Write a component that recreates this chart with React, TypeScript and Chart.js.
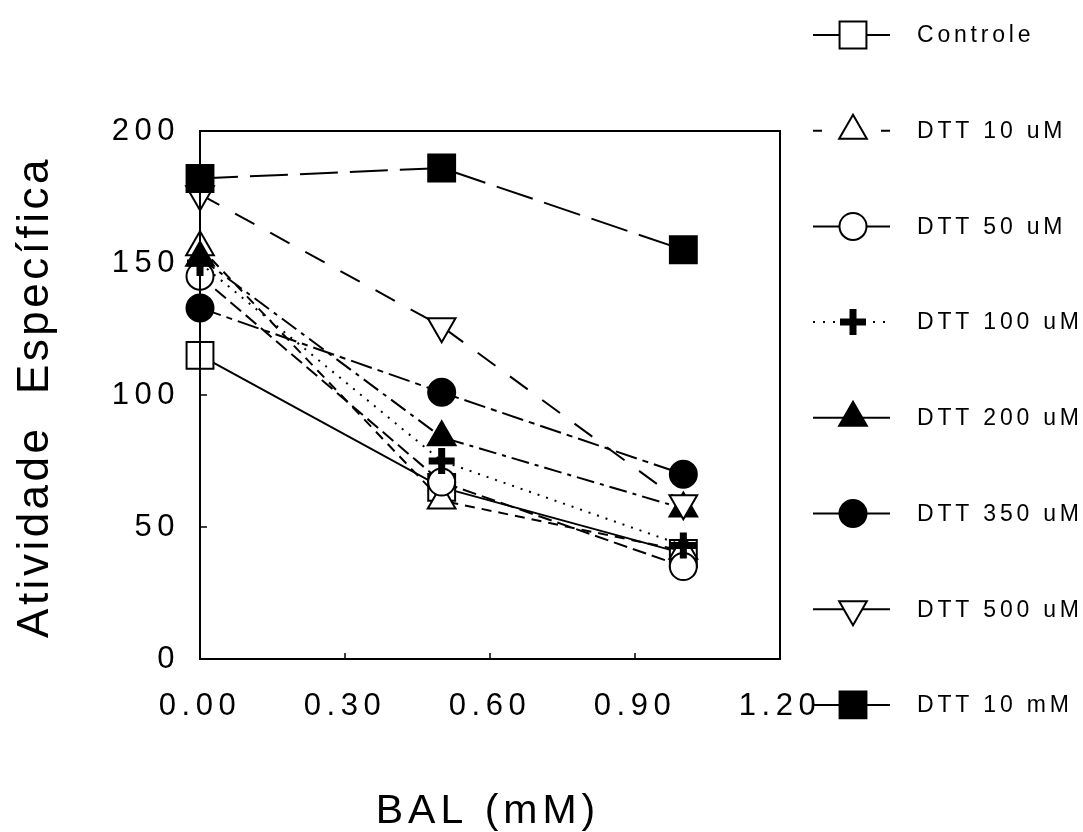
import React, { useEffect, useRef } from 'react';
import { Chart, registerables } from 'chart.js';
import { drawPoint } from 'chart.js/helpers';

Chart.register(...registerables);

// ---- data ----
const xValues = [0, 0.5, 1.0];
const seriesNames = ['Controle', 'DTT 10 uM', 'DTT 50 uM', 'DTT 100 uM', 'DTT 200 uM', 'DTT 350 uM', 'DTT 500 uM', 'DTT 10 mM'];
const controle = [115, 65, 40];
const dtt10uM = [156, 60, 41];
const dtt50uM = [145, 67, 35];
const dtt100uM = [150, 75, 43];
const dtt200uM = [152, 84, 57];
const dtt350uM = [133, 101, 70];
const dtt500uM = [176, 126, 59];
const dtt10mM = [182, 186, 155];
const seriesValues = [controle, dtt10uM, dtt50uM, dtt100uM, dtt200uM, dtt350uM, dtt500uM, dtt10mM];
const xTicks = [0, 0.3, 0.6, 0.9, 1.2];
const xTickLabels = ['0.00', '0.30', '0.60', '0.90', '1.20'];
const yTicks = [0, 50, 100, 150, 200];
const yTickLabels = ['0', '50', '100', '150', '200'];
const xTitle = 'BAL (mM)';
const yTitle = 'Atividade  Específica';

// ---- styles ----
type St = { pointStyle: string; radius: number; fill: string; rotation: number; bw: number; dash: number[]; legendDash: number[] };
const styles: St[] = [
  { pointStyle: 'rect', radius: 19, fill: '#fff', rotation: 0, bw: 2, dash: [], legendDash: [] },
  { pointStyle: 'triangle', radius: 16, fill: '#fff', rotation: 0, bw: 2, dash: [10, 7], legendDash: [9, 59] },
  { pointStyle: 'circle', radius: 13.5, fill: '#fff', rotation: 0, bw: 2, dash: [14, 6], legendDash: [] },
  { pointStyle: 'cross', radius: 13, fill: '#000', rotation: 0, bw: 7, dash: [2, 7], legendDash: [2, 8] },
  { pointStyle: 'triangle', radius: 16, fill: '#000', rotation: 0, bw: 2, dash: [18, 6, 4, 6], legendDash: [] },
  { pointStyle: 'circle', radius: 13.5, fill: '#000', rotation: 0, bw: 2, dash: [22, 6, 6, 6], legendDash: [] },
  { pointStyle: 'triangle', radius: 16, fill: '#fff', rotation: 180, bw: 2, dash: [22, 18], legendDash: [] },
  { pointStyle: 'rect', radius: 19, fill: '#000', rotation: 0, bw: 2, dash: [38, 12], legendDash: [] },
];

const FONT = '"Liberation Sans", Arial, Helvetica, sans-serif';

const decor = {
  id: 'decor',
  beforeDraw(chart: any) {
    const ctx = chart.ctx;
    ctx.save();
    ctx.fillStyle = '#fff';
    ctx.fillRect(0, 0, chart.width, chart.height);
    ctx.restore();
    ctx.letterSpacing = '5.5px';
  },
  afterDatasetsDraw(chart: any) {
    const ctx = chart.ctx;
    const a = chart.chartArea;
    const xs = chart.scales.x;
    const ys = chart.scales.y;
    ctx.save();
    ctx.strokeStyle = '#000';
    ctx.lineWidth = 2;
    ctx.setLineDash([]);
    ctx.strokeRect(a.left, a.top, a.right - a.left, a.bottom - a.top);
    ctx.lineWidth = 1.5;
    ctx.beginPath();
    xTicks.forEach((v) => {
      const px = xs.getPixelForValue(v);
      if (px > a.left + 2 && px < a.right - 2) {
        ctx.moveTo(px, a.bottom);
        ctx.lineTo(px, a.bottom - 6);
      }
    });
    yTicks.forEach((v) => {
      const py = ys.getPixelForValue(v);
      if (py > a.top + 2 && py < a.bottom - 2) {
        ctx.moveTo(a.left, py);
        ctx.lineTo(a.left + 7, py);
      }
    });
    ctx.stroke();
    ctx.restore();
  },
  afterDraw(chart: any) {
    const ctx = chart.ctx;
    const a = chart.chartArea;
    ctx.save();
    ctx.fillStyle = '#000';
    // titles
    ctx.font = `41px ${FONT}`;
    ctx.letterSpacing = '5px';
    ctx.textAlign = 'center';
    ctx.textBaseline = 'alphabetic';
    ctx.fillText(xTitle, (a.left + a.right) / 2 - 2, 823);
    ctx.font = `44px ${FONT}`;
    ctx.letterSpacing = '3.5px';
    ctx.save();
    ctx.translate(48, (a.top + a.bottom) / 2 + 2);
    ctx.rotate(-Math.PI / 2);
    ctx.fillText(yTitle, 0, 0);
    ctx.restore();
    // legend
    const lx = 853;
    styles.forEach((st, i) => {
      const y = 35 + i * 95.7;
      ctx.save();
      ctx.strokeStyle = '#000';
      ctx.lineWidth = 2;
      ctx.setLineDash(st.legendDash);
      ctx.beginPath();
      ctx.moveTo(813, y);
      ctx.lineTo(890, y);
      ctx.stroke();
      ctx.setLineDash([]);
      ctx.fillStyle = st.fill;
      ctx.strokeStyle = '#000';
      ctx.lineWidth = st.bw;
      drawPoint(ctx, { pointStyle: st.pointStyle as any, rotation: st.rotation, radius: st.radius, borderWidth: st.bw }, lx, y);
      ctx.restore();
      ctx.font = `23px ${FONT}`;
      ctx.letterSpacing = '3.8px';
      ctx.textAlign = 'left';
      ctx.textBaseline = 'middle';
      ctx.fillStyle = '#000';
      ctx.fillText(seriesNames[i], 917, y + 1);
    });
    ctx.restore();
  },
};

export default function App() {
  const ref = useRef<HTMLCanvasElement | null>(null);
  useEffect(() => {
    if (!ref.current) return;
    const n = seriesNames.length;
    const datasets = seriesNames.map((name, i) => {
      const st = styles[i];
      return {
        label: name,
        data: xValues.map((x, j) => ({ x, y: seriesValues[i][j] })),
        showLine: true,
        borderColor: '#000',
        borderWidth: 2,
        borderDash: st.dash,
        backgroundColor: st.fill,
        pointStyle: st.pointStyle,
        pointRadius: st.radius,
        pointRotation: st.rotation,
        pointBackgroundColor: st.fill,
        pointBorderColor: '#000',
        pointBorderWidth: st.bw,
        fill: false,
        tension: 0,
        clip: false,
        order: n - i,
      };
    });
    const chart = new Chart(ref.current, {
      type: 'scatter',
      data: { datasets } as any,
      plugins: [decor],
      options: {
        animation: false,
        responsive: false,
        events: [],
        layout: { padding: { left: 0, top: 131, right: 303, bottom: 0 } },
        plugins: { legend: { display: false }, tooltip: { enabled: false }, title: { display: false } },
        scales: {
          x: {
            type: 'linear',
            min: 0,
            max: 1.2,
            afterBuildTicks: (s: any) => { s.ticks = xTicks.map((v) => ({ value: v })); },
            afterFit: (s: any) => { s.height = 173; },
            grid: { display: false, drawTicks: false },
            border: { display: false },
            ticks: {
              autoSkip: false,
              maxRotation: 0,
              minRotation: 0,
              padding: 29,
              color: '#000',
              font: { family: FONT, size: 31 },
              callback: (v: any) => xTickLabels[xTicks.indexOf(Number(v))] ?? '',
            },
          },
          y: {
            type: 'linear',
            min: 0,
            max: 200,
            afterBuildTicks: (s: any) => { s.ticks = yTicks.map((v) => ({ value: v })); },
            afterFit: (s: any) => { s.width = 200; },
            grid: { display: false, drawTicks: false },
            border: { display: false },
            ticks: {
              autoSkip: false,
              padding: 20,
              color: '#000',
              font: { family: FONT, size: 31 },
              callback: (v: any) => yTickLabels[yTicks.indexOf(Number(v))] ?? '',
            },
          },
        },
      } as any,
    });
    return () => chart.destroy();
  }, []);
  return (
    <div style={{ position: 'absolute', left: 0, top: 0, width: 1083, height: 832 }}>
      <canvas ref={ref} width={1083} height={832} />
    </div>
  );
}
